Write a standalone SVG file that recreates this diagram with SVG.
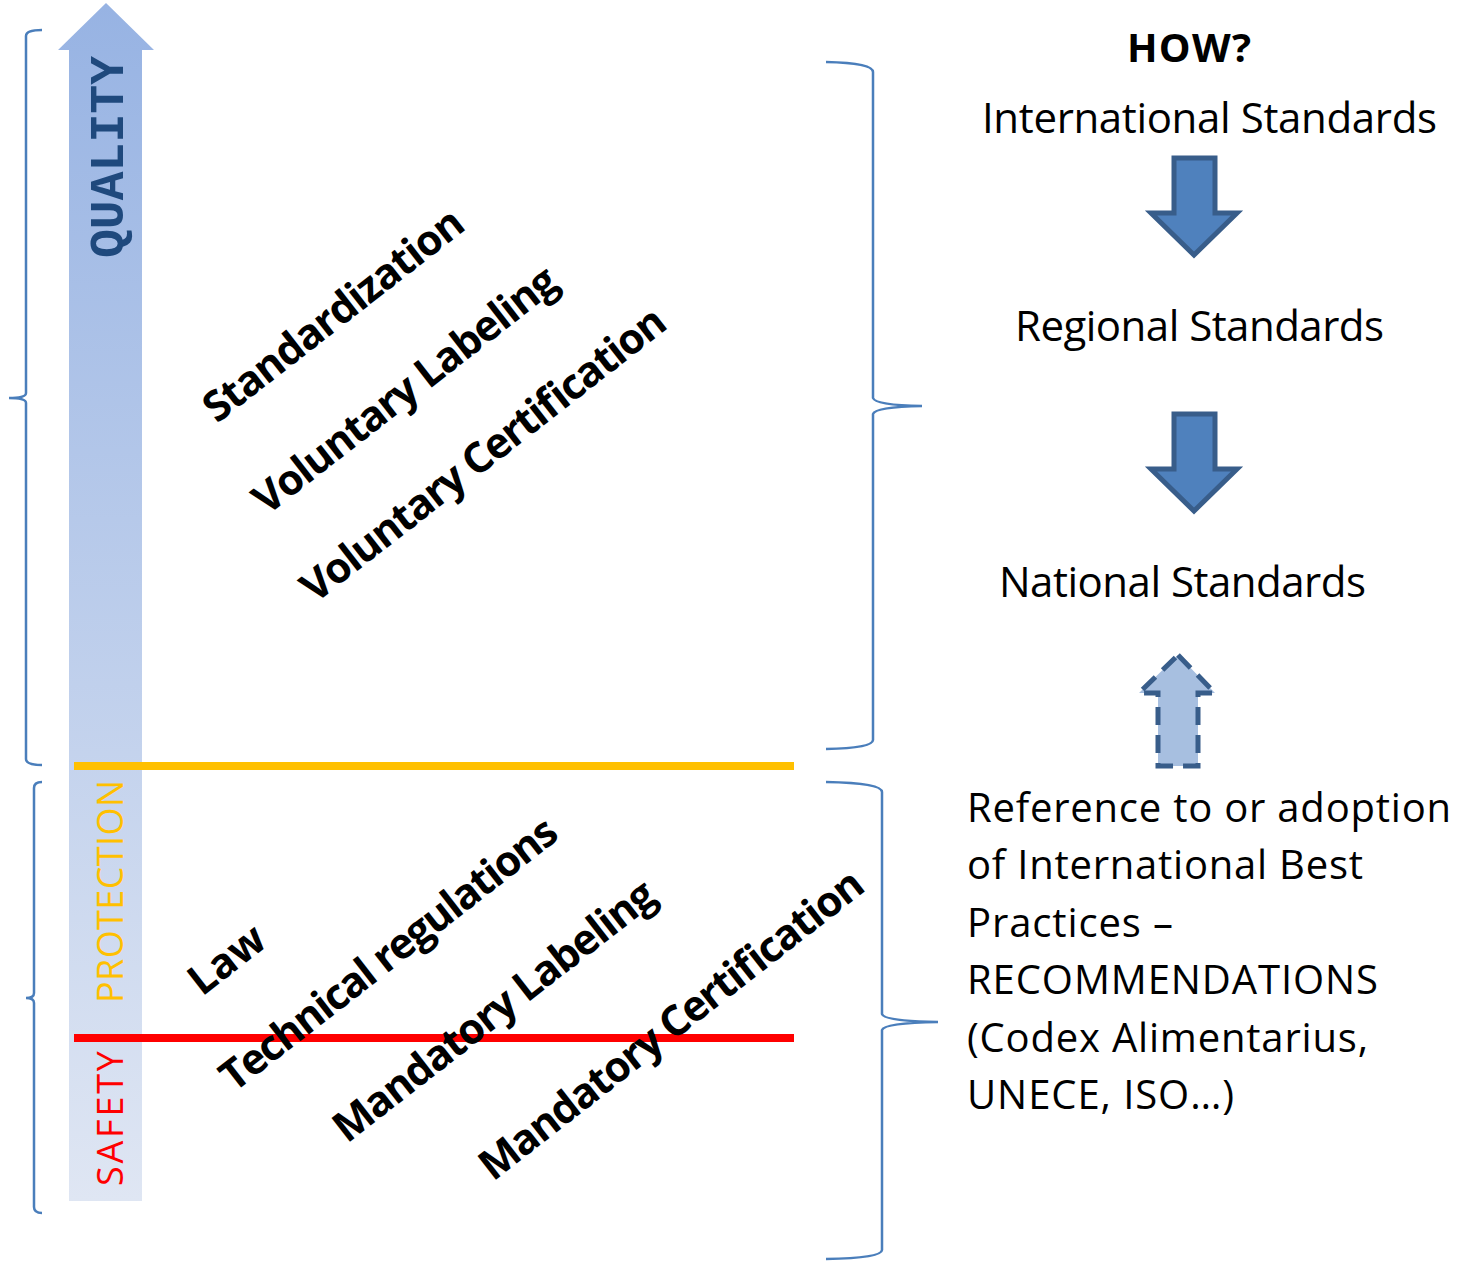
<svg xmlns="http://www.w3.org/2000/svg" width="1462" height="1262" viewBox="0 0 1462 1262">
<defs>
<linearGradient id="arrowGrad" x1="0" y1="0" x2="0" y2="1">
<stop offset="0" stop-color="#97b3e3"/>
<stop offset="1" stop-color="#dfe6f3"/>
</linearGradient>
<style>
.brace{fill:none;stroke:#4a7ebb;stroke-width:2.5}
.rot{font-family:"Open Sans","Liberation Sans",sans-serif;font-weight:bold;font-size:42px;fill:#000}
.rt{font-family:"Open Sans","Liberation Sans",sans-serif;font-size:40px;fill:#000}
.big{font-size:42px}
.down{fill:#4f81bd;stroke:#385d8a;stroke-width:5;stroke-linejoin:miter}
</style>
</defs>
<rect width="1462" height="1262" fill="#fff"/>

<g id="quality-arrow">
<polygon points="106,3 154,50 142,50 142,1201 69,1201 69,50 58,50" fill="url(#arrowGrad)"/>
<text transform="translate(123,258) rotate(-90)" font-family="'Liberation Mono','DejaVu Sans Mono',monospace" font-weight="bold" font-size="48" fill="#1f497d" textLength="202" lengthAdjust="spacingAndGlyphs">QUALITY</text>
<text transform="translate(123,1003) rotate(-90)" font-family="'Open Sans','Liberation Sans',sans-serif" font-size="36" fill="#ffc000" textLength="223">PROTECTION</text>
<text transform="translate(123,1186) rotate(-90)" font-family="'Open Sans','Liberation Sans',sans-serif" font-size="36" fill="#ff0000" textLength="135">SAFETY</text>
</g>

<g id="levels">
<line x1="74" y1="766" x2="794" y2="766" stroke="#ffc000" stroke-width="8"/>
<line x1="74" y1="1038" x2="794" y2="1038" stroke="#ff0000" stroke-width="8"/>
</g>

<g id="braces">
<path class="brace" d="M42,30 Q26,30 26,36 V393 Q26,398 9,398 Q26,398 26,403 V759 Q26,765 42,765"/>
<path class="brace" d="M42,782 Q34,782 34,788 V993 Q34,998 26,998 Q34,998 34,1003 V1207 Q34,1213 42,1213"/>
<path class="brace" d="M826,62 Q873,63 873,72 V398 Q875,405 922,406 Q875,407 873,414 V740 Q873,748 826,749"/>
<path class="brace" d="M826,782 Q882,783 882,792 V1014 Q884,1021 938,1022 Q884,1023 882,1030 V1250 Q882,1258 826,1259"/>
</g>

<g id="voluntary">
<text class="rot" transform="translate(217,424) rotate(-38)" textLength="318">Standardization</text>
<text class="rot" transform="translate(267,516) rotate(-38)" textLength="373">Voluntary Labeling</text>
<text class="rot" transform="translate(315,604) rotate(-38)" textLength="450">Voluntary Certification</text>
</g>

<g id="mandatory">
<text class="rot" transform="translate(202,997) rotate(-38)">Law</text>
<text class="rot" transform="translate(234,1093) rotate(-38)" textLength="415">Technical regulations</text>
<text class="rot" transform="translate(347,1144) rotate(-38)" textLength="396">Mandatory Labeling</text>
<text class="rot" transform="translate(493,1182) rotate(-38)" textLength="475">Mandatory Certification</text>
</g>

<g id="how">
<text class="rt" x="1127" y="62" font-weight="bold" textLength="124">HOW?</text>
</g>
<g id="international">
<text class="rt big" x="982" y="133" textLength="455">International Standards</text>
</g>
<g id="regional">
<text class="rt big" x="1015" y="341" textLength="369">Regional Standards</text>
</g>
<g id="national">
<text class="rt big" x="999" y="597" textLength="367">National Standards</text>
</g>
<g id="best-practices">
<text class="rt" x="967" y="822" textLength="484">Reference to or adoption</text>
<text class="rt" x="967" y="879" textLength="396">of International Best</text>
<text class="rt" x="967" y="937" textLength="206">Practices –</text>
<text class="rt" x="967" y="994" textLength="411">RECOMMENDATIONS</text>
<text class="rt" x="967" y="1052" textLength="401">(Codex Alimentarius,</text>
<text class="rt" x="967" y="1109" textLength="267">UNECE, ISO…)</text>
</g>

<g id="connectors">
<polygon class="down" points="1174,158 1215,158 1215,213 1237,213 1194,255 1151,213 1174,213"/>
<polygon class="down" points="1174,414 1215,414 1215,469 1237,469 1194,511 1151,469 1174,469"/>
<polygon points="1178,655 1215,693 1198,693 1198,766 1158,766 1158,693 1139,693" fill="#a7bfe0" stroke="#385d8a" stroke-width="5" stroke-dasharray="18,10"/>
</g>
</svg>
